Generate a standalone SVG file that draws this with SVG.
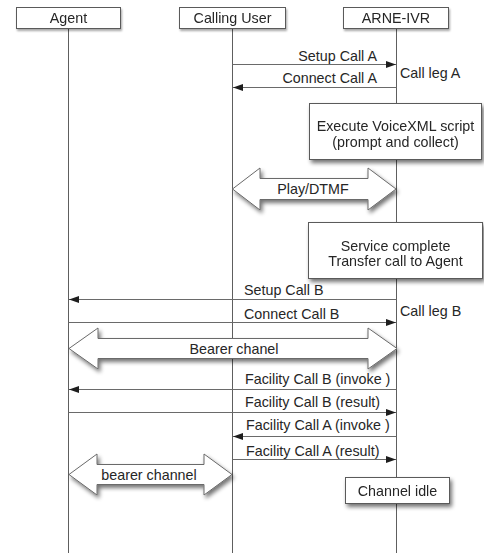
<svg xmlns="http://www.w3.org/2000/svg" width="484" height="553" viewBox="0 0 484 553">
  <style>
    text { font-family: "Liberation Sans", Arial, sans-serif; font-size: 14.3px; fill: #262626; }
    .mid { text-anchor: middle; }
    .end { text-anchor: end; }
    .box { fill: #ffffff; stroke: #5a5a5a; stroke-width: 1; }
    .life { stroke: #5e5e5e; stroke-width: 1; fill: none; }
    .msg { stroke: #6a6a6a; stroke-width: 1; fill: none; marker-end: url(#head); }
    .dbl { fill: #ffffff; stroke: #6a6a6a; stroke-width: 1; }
  </style>
  <defs>
    <marker id="head" markerUnits="userSpaceOnUse" markerWidth="11" markerHeight="8" refX="10" refY="4" orient="auto">
      <path d="M0,0.5 L10,4 L0,7.5 Z" fill="#1e1e1e"/>
    </marker>
    <filter id="shadow" x="-10%" y="-20%" width="130%" height="160%">
      <feGaussianBlur in="SourceAlpha" stdDeviation="2"/>
      <feOffset dx="2" dy="3" result="blur"/>
      <feComponentTransfer><feFuncA type="linear" slope="0.55"/></feComponentTransfer>
      <feMerge><feMergeNode/><feMergeNode in="SourceGraphic"/></feMerge>
    </filter>
    <filter id="softshadow" x="-10%" y="-20%" width="130%" height="160%">
      <feGaussianBlur in="SourceAlpha" stdDeviation="1"/>
      <feOffset dx="1" dy="1.5" result="blur"/>
      <feComponentTransfer><feFuncA type="linear" slope="0.35"/></feComponentTransfer>
      <feMerge><feMergeNode/><feMergeNode in="SourceGraphic"/></feMerge>
    </filter>
  </defs>

  <rect width="484" height="553" fill="#ffffff"/>

  <!-- lifelines -->
  <g id="lifelines">
    <line class="life" x1="68.5" y1="28" x2="68.5" y2="553"/>
    <line class="life" x1="232.5" y1="28" x2="232.5" y2="553"/>
    <line class="life" x1="396.5" y1="28" x2="396.5" y2="553"/>
  </g>

  <!-- participants -->
  <g id="agent" filter="url(#softshadow)">
    <rect class="box" x="16.5" y="7.5" width="104" height="21"/>
    <text class="mid" x="68.5" y="23">Agent</text>
  </g>
  <g id="calling-user" filter="url(#softshadow)">
    <rect class="box" x="179.5" y="7.5" width="106" height="21"/>
    <text class="mid" x="232.5" y="23">Calling User</text>
  </g>
  <g id="arne-ivr" filter="url(#softshadow)">
    <rect class="box" x="343.5" y="7.5" width="105" height="21"/>
    <text class="mid" x="396" y="23">ARNE-IVR</text>
  </g>

  <!-- messages -->
  <g id="connectors">
    <line class="msg" x1="232.5" y1="64.5" x2="396" y2="64.5"/>
    <text class="end" x="377" y="61">Setup Call A</text>
    <line class="msg" x1="396.5" y1="87.5" x2="233" y2="87.5"/>
    <text class="end" x="377" y="82.5">Connect Call A</text>

    <path class="dbl" filter="url(#shadow)" d="M232.5,189 L260,168 L260,178.5 L368,178.5 L368,168 L396,189 L368,210 L368,199.5 L260,199.5 L260,210 Z"/>
    <text class="mid" x="313" y="194">Play/DTMF</text>

    <line class="msg" x1="396.5" y1="299.5" x2="69" y2="299.5"/>
    <text x="244" y="295">Setup Call B</text>
    <line class="msg" x1="68.5" y1="322.5" x2="396" y2="322.5"/>
    <text x="244" y="319">Connect Call B</text>

    <path class="dbl" filter="url(#shadow)" d="M69,348.5 L98,328 L98,338.5 L368,338.5 L368,328 L397,348.5 L368,369 L368,358.5 L98,358.5 L98,369 Z"/>
    <text class="mid" x="234" y="354">Bearer chanel</text>

    <line class="msg" x1="396.5" y1="389.5" x2="69" y2="389.5"/>
    <text x="245" y="384">Facility Call B (invoke )</text>
    <line class="msg" x1="68.5" y1="412.5" x2="396" y2="412.5"/>
    <text x="245" y="407">Facility Call B (result)</text>
    <line class="msg" x1="396.5" y1="436.5" x2="233" y2="436.5"/>
    <text x="246" y="430">Facility Call A (invoke )</text>
    <line class="msg" x1="232.5" y1="459.5" x2="396" y2="459.5"/>
    <text x="246" y="456">Facility Call A (result)</text>

    <path class="dbl" filter="url(#shadow)" d="M69,474.5 L97,454 L97,464.5 L204,464.5 L204,454 L232,474.5 L204,495 L204,484.5 L97,484.5 L97,495 Z"/>
    <text class="mid" x="149" y="479.5">bearer channel</text>
  </g>

  <!-- call leg labels -->
  <g id="call-legs">
    <text x="400" y="78">Call leg A</text>
    <text x="400" y="316">Call leg B</text>
  </g>

  <!-- notes on the IVR lifeline -->
  <g id="note-execute" filter="url(#shadow)">
    <rect class="box" x="309.5" y="103.5" width="172" height="56"/>
    <text class="mid" x="395.5" y="131">Execute VoiceXML script</text>
    <text class="mid" x="395.5" y="146.5">(prompt and collect)</text>
  </g>
  <g id="note-transfer" filter="url(#shadow)">
    <rect class="box" x="308.5" y="222.5" width="174" height="56"/>
    <text class="mid" x="395.5" y="251">Service complete</text>
    <text class="mid" x="395.5" y="266">Transfer call to Agent</text>
  </g>
  <g id="note-idle" filter="url(#shadow)">
    <rect class="box" x="345.5" y="477.5" width="104" height="26"/>
    <text class="mid" x="397.5" y="495.5">Channel idle</text>
  </g>
</svg>
